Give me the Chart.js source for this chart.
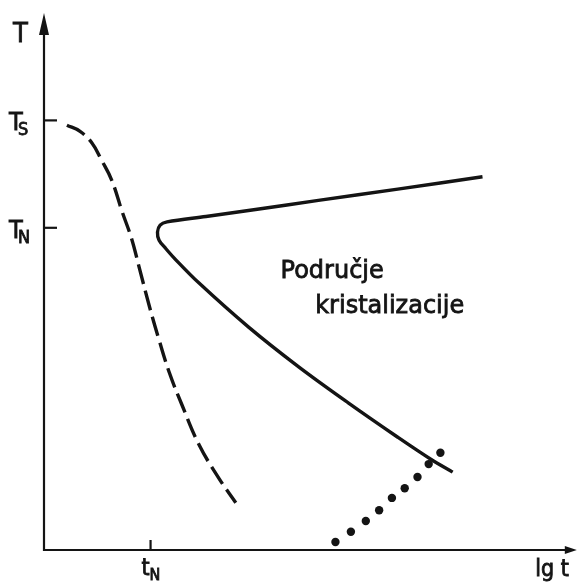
<!DOCTYPE html>
<html>
<head>
<meta charset="utf-8">
<title>Područje kristalizacije</title>
<script src="https://cdn.jsdelivr.net/npm/chart.js@4/dist/chart.umd.min.js"></script>
<style>
  html, body { margin: 0; padding: 0; background: #fff; }
  #chart { display: block; }
</style>
</head>
<body>
<canvas id="chart" width="581" height="582"></canvas>
<script>
// values are in arbitrary units on both axes (0..100)
const tickT = [
  { value: 80, main: 'T', sub: 'S' },
  { value: 60, main: 'T', sub: 'N' }
]
const tickLgT = [
  { value: 20, main: 't', sub: 'N' }
]

// dashed cooling curve
const coolingX = [4.3, 6.7, 9.0, 10.8, 12.7, 14.7, 16.4, 17.9, 19.8, 21.6, 23.5, 25.9, 29.1, 32.8, 36.0]
const coolingT = [79.1, 78.0, 75.8, 72.6, 68.9, 62.9, 58.1, 52.5, 45.3, 39.1, 33.1, 27.0, 19.6, 13.4, 8.8]

// C shaped crystallisation boundary, upper branch first
const boundaryX = [82.3, 66.4, 51.5, 39.7, 30.4, 23.1, 21.8, 21.3, 21.6, 22.8, 24.4, 29.1, 38.4, 47.8, 57.1, 66.4, 72.6, 76.7]
const boundaryT = [69.5, 67.2, 65.1, 63.4, 62.1, 61.1, 60.5, 59.2, 57.7, 56.2, 54.4, 49.7, 41.5, 34.1, 27.4, 21.0, 16.9, 14.5]

// dotted line
const dotsX = [54.7, 57.6, 60.4, 62.9, 65.3, 67.7, 70.1, 72.2, 74.4]
const dotsT = [1.5, 3.4, 5.4, 7.4, 9.7, 11.5, 13.6, 16.0, 18.1]

const regionLabel = [
  { x: 44.4, y: 50.7, text: 'Područje' },
  { x: 50.9, y: 44.1, text: 'kristalizacije' }
]

const INK = '#141414'
const FONT = '"DejaVu Sans Condensed", "DejaVu Sans", sans-serif'
const WIDE_FONT = '"DejaVu Sans", sans-serif'

function toPoints (xs, ys) {
  return xs.map((x, i) => ({ x: x, y: ys[i] }))
}

// scanned lettering is a bit heavier than the book weight
function inkText (ctx, text, x, y, size, family) {
  ctx.font = size + 'px ' + (family || FONT)
  ctx.lineWidth = 0.8
  ctx.strokeText(text, x, y)
  ctx.fillText(text, x, y)
}

function arrowHead (ctx, tipX, tipY, dir, len, half) {
  ctx.beginPath()
  if (dir === 'up') {
    ctx.moveTo(tipX, tipY)
    ctx.lineTo(tipX - half, tipY + len)
    ctx.lineTo(tipX + half, tipY + len)
  } else {
    ctx.moveTo(tipX, tipY)
    ctx.lineTo(tipX - len, tipY - half)
    ctx.lineTo(tipX - len, tipY + half)
  }
  ctx.closePath()
  ctx.fill()
}

function subLabel (ctx, x, y, main, sub, size, subSize, subDx, subDy) {
  inkText(ctx, main, x, y, size)
  inkText(ctx, sub, x + subDx, y + subDy, subSize)
}

// axes, arrows, ticks and all text
const sketchAxes = {
  id: 'sketchAxes',
  afterDatasetsDraw (chart) {
    const ctx = chart.ctx
    const xs = chart.scales.x
    const ys = chart.scales.y
    const x0 = xs.getPixelForValue(0)
    const y0 = ys.getPixelForValue(0)
    const xEnd = xs.getPixelForValue(100)
    const yEnd = ys.getPixelForValue(100)

    ctx.save()
    ctx.strokeStyle = INK
    ctx.fillStyle = INK
    ctx.lineWidth = 2.2
    ctx.lineCap = 'butt'

    ctx.beginPath()
    ctx.moveTo(x0, y0 + 1)
    ctx.lineTo(x0, yEnd + 12)
    ctx.moveTo(x0 - 1, y0)
    ctx.lineTo(xEnd - 8, y0)
    ctx.stroke()
    arrowHead(ctx, x0, yEnd, 'up', 22, 5)
    arrowHead(ctx, xEnd, y0, 'right', 12, 4)

    // ticks
    tickT.forEach(t => {
      const py = ys.getPixelForValue(t.value)
      ctx.beginPath()
      ctx.moveTo(x0, py)
      ctx.lineTo(x0 + 13, py)
      ctx.stroke()
    })
    tickLgT.forEach(t => {
      const px = xs.getPixelForValue(t.value)
      ctx.beginPath()
      ctx.moveTo(px, y0)
      ctx.lineTo(px, y0 - 10)
      ctx.stroke()
    })

    ctx.textAlign = 'left'
    ctx.textBaseline = 'alphabetic'

    // axis titles
    inkText(ctx, 'T', 13, yEnd + 29, 27)
    ctx.textAlign = 'right'
    inkText(ctx, 'lg t', xEnd - 8, y0 + 26, 23)
    ctx.textAlign = 'left'

    tickT.forEach(t => {
      const py = ys.getPixelForValue(t.value)
      subLabel(ctx, 9, py + 10, t.main, t.sub, 25, 18, 9, 5)
    })
    tickLgT.forEach(t => {
      const px = xs.getPixelForValue(t.value)
      subLabel(ctx, px - 9, y0 + 25, t.main, t.sub, 23, 16, 8, 5)
    })

    regionLabel.forEach(l => {
      inkText(ctx, l.text, xs.getPixelForValue(l.x), ys.getPixelForValue(l.y), 24, WIDE_FONT)
    })
    ctx.restore()
  }
}

new Chart(document.getElementById('chart'), {
  type: 'scatter',
  data: {
    datasets: [
      {
        data: toPoints(coolingX, coolingT),
        showLine: true,
        borderColor: INK,
        borderWidth: 3.4,
        borderDash: [20, 7],
        tension: 0.4,
        pointRadius: 0
      },
      {
        data: toPoints(boundaryX, boundaryT),
        showLine: true,
        borderColor: INK,
        borderWidth: 3.4,
        tension: 0.35,
        pointRadius: 0
      },
      {
        data: toPoints(dotsX, dotsT),
        showLine: false,
        pointRadius: 4.2,
        pointBorderWidth: 0,
        pointBackgroundColor: INK
      }
    ]
  },
  options: {
    responsive: false,
    animation: false,
    layout: { padding: { left: 44, right: 1, top: 13, bottom: 32 } },
    scales: {
      x: { type: 'linear', min: 0, max: 100, display: false },
      y: { type: 'linear', min: 0, max: 100, display: false }
    },
    plugins: {
      legend: { display: false },
      tooltip: { enabled: false }
    }
  },
  plugins: [sketchAxes]
})
</script>
</body>
</html>
